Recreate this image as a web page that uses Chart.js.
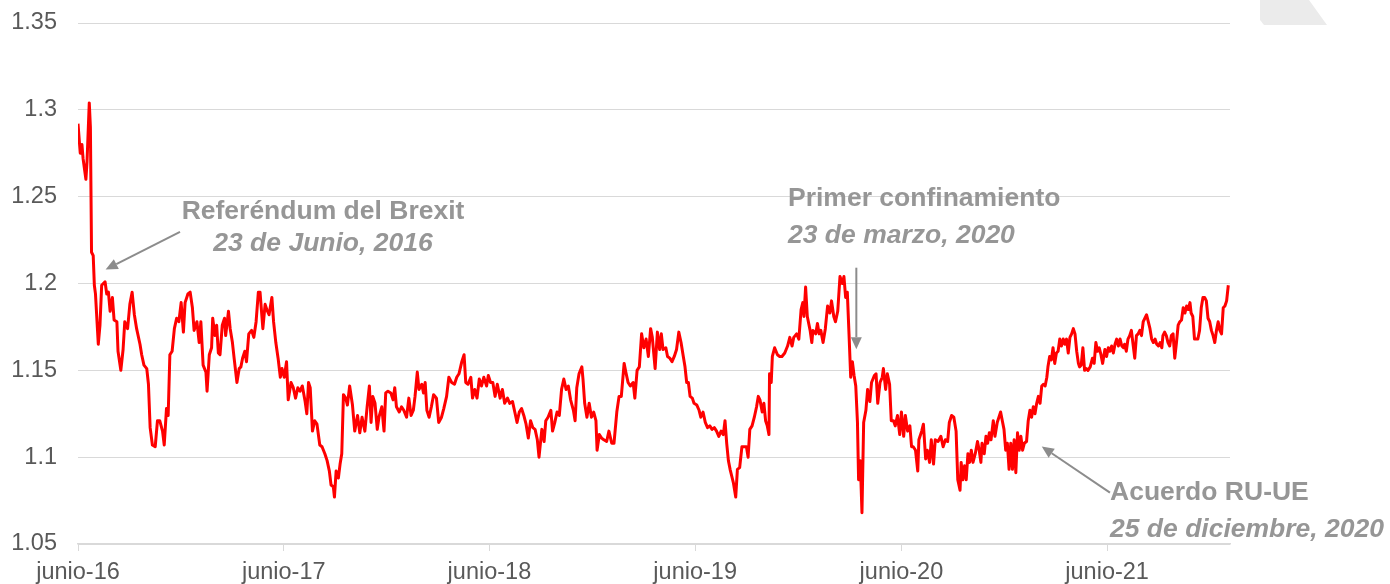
<!DOCTYPE html>
<html>
<head>
<meta charset="utf-8">
<script src="https://cdn.jsdelivr.net/npm/chart.js@4"></script>
<style>
  html, body { margin: 0; padding: 0; background: #fff; }
  #wrap { position: relative; width: 1390px; height: 584px; }
</style>
</head>
<body>
<div id="wrap"><canvas id="myChart"></canvas></div>
<script>
// GBP/EUR, x = days since 1 June 2016
const days = [
  0,4,7,9,14,16,20,22,24,27,29,31,36,39,42,48,51,54,57,61,64,69,71,76,80,83,88,92,96,100,
  104,110,113,117,122,125,128,132,137,141,145,150,153,157,160,163,167,171,175,179,
  183,187,190,195,199,203,206,211,215,218,222,227,229,233,237,239,243,246,249,252,
  256,260,262,267,270,274,277,282,286,289,292,296,299,303,308,312,316,320,323,328,
  332,335,339,344,347,351,355,359,362,366,370,373,378,382,386,390,394,398,403,406,
  409,412,416,420,424,429,433,438,442,446,449,453,455,458,462,465,468,471,475,478,
  482,487,491,496,500,504,
  509,513,517,520,523,527,531,534,539,543,546,550,555,559,562,565,570,574,578,583,
  587,591,595,598,602,605,610,613,616,619,623,627,631,636,640,645,649,654,658,663,
  668,672,676,681,685,688,692,697,700,704,708,712,716,720,725,728,732,736,740,744,
  749,753,757,762,766,771,775,779,783,787,791,795,799,803,807,811,815,818,823,827,
  830,834,839,842,846,850,854,858,862,866,870,874,879,882,885,889,894,896,899,903,
  907,911,915,919,921,925,929,933,938,942,947,951,956,960,964,969,972,976,980,985,
  988,992,996,1000,1004,1008,1012,1016,1019,1024,1028,
  1032,1035,1038,1043,1046,1050,1054,1058,1062,1066,1070,1074,1077,1080,1083,1086,1090,1093,1098,1102,
  1105,1109,1113,1117,1121,1125,1129,1133,1137,1141,1145,1148,1151,1154,1157,1160,1163,1167,1170,1174,
  1178,1182,1186,1189,1192,1196,1200,1204,1207,1210,1214,1217,1220,1223,1226,1227,1230,1232,1236,1241,
  1245,1249,1254,1259,1263,1267,1270,1275,1279,1283,1286,1288,1291,1294,1299,1302,1304,1309,1312,1315,
  1318,1322,1326,1330,1334,1337,1341,1344,1348,1352,1356,1359,1362,1365,1368,1371,1374,1377,1380,1383,
  1385,1388,1391,1394,1398,1401,1405,1408,1413,1416,1419,1423,1427,1429,1433,1436,1440,1443,1447,1450,
  1454,1458,1461,1465,1468,1472,1476,1479,1482,1486,1490,1492,1497,1500,1504,1507,1511,1514,1518,1521,
  1526,1531,1535,1539,1543,
  1546,1550,1554,1558,1561,1565,1567,1570,1573,1576,1579,1582,1585,1588,1592,1596,1599,1602,1604,1608,
  1611,1614,1617,1620,1624,1627,1631,1634,1637,1640,1643,1646,1649,1652,1655,1658,1661,1664,1667,1670,
  1673,1676,1679,1683,1686,1689,1692,1695,1698,1701,1704,1707,1710,1713,1716,1719,1721,1724,1727,1730,
  1733,1736,1739,1742,1745,1748,1751,1754,1757,1760,1763,1766,1769,1772,1775,1777,1780,1783,1786,1789,
  1792,1796,1800,1803,1806,1809,1812,1815,1818,1822,1825,1828,1831,1834,1837,1840,1843,1846,1849,1852,
  1855,1857,1860,1863,1866,1869,1872,1875,1878,1881,1884,1887,1890,1893,1896,1899,1902,1905,1908,1911,
  1914,1917,1920,1923,1925,1928,1931,1934,1937,1940,1943,1946,1949,1952,1955,1958,1961,1964,1967,1970,
  1973,1975,1978,1981,1984,1987,1990,1993,1996,1999,2002,2005,2008,2011,2014,2017,2020,2023,2026,2029,
  2032,2035,2038,2041
];

const rates = [
  1.292,1.275,1.280,1.272,1.260,1.270,1.304,1.290,1.218,1.216,1.199,1.194,1.165,1.176,1.199,1.201,1.194,1.195,1.184,1.192,
  1.179,1.178,1.161,1.150,1.162,1.178,1.174,1.188,1.195,1.182,1.174,1.165,1.159,1.153,1.151,1.142,1.117,1.107,1.106,1.121,
  1.121,1.115,1.107,1.128,1.124,1.159,1.161,1.174,1.180,1.178,1.189,1.172,1.189,1.194,1.195,1.186,1.173,1.178,1.166,1.178,
  1.153,1.149,1.138,1.159,1.163,1.180,1.170,1.176,1.160,1.159,1.176,1.180,1.170,1.184,1.174,1.166,1.157,1.143,1.151,1.152,
  1.157,1.161,1.155,1.171,1.173,1.169,1.178,1.195,1.195,1.174,1.188,1.185,1.182,1.192,1.178,1.166,1.157,1.146,1.151,1.146,
  1.155,1.133,1.143,1.140,1.134,1.140,1.138,1.141,1.132,1.125,1.143,1.140,1.115,1.121,1.119,1.107,1.106,1.102,1.098,1.092,
  1.084,1.083,1.077,1.092,1.088,1.096,1.102,1.136,1.134,1.130,1.141,1.130,1.115,1.124,1.114,1.123,
  1.115,1.129,1.141,1.120,1.135,1.131,1.116,1.123,1.129,1.115,1.137,1.138,1.137,1.133,1.140,1.129,1.126,1.129,1.127,1.123,
  1.134,1.124,1.127,1.135,1.149,1.139,1.142,1.137,1.143,1.127,1.123,1.129,1.136,1.134,1.120,1.123,1.128,1.135,1.146,1.143,
  1.142,1.146,1.148,1.155,1.159,1.143,1.142,1.146,1.134,1.139,1.134,1.145,1.141,1.146,1.141,1.147,1.143,1.143,1.135,1.142,
  1.134,1.139,1.131,1.134,1.131,1.132,1.126,1.120,1.126,1.128,1.124,1.119,1.111,1.121,1.117,1.116,1.110,1.100,1.116,1.109,
  1.121,1.123,1.127,1.115,1.120,1.126,1.124,1.139,1.145,1.139,1.141,1.133,1.127,1.121,1.140,1.148,1.152,1.145,1.131,1.123,
  1.131,1.123,1.126,1.121,1.104,1.113,1.111,1.110,1.109,1.115,1.108,1.108,1.126,1.135,1.135,1.154,1.149,1.143,1.141,1.143,
  1.134,1.150,1.152,1.171,1.163,1.168,1.158,1.174,1.169,1.151,1.172,
  1.162,1.171,1.162,1.163,1.158,1.157,1.155,1.158,1.162,1.172,1.166,1.158,1.152,1.143,1.143,1.135,1.134,1.131,1.130,1.127,
  1.123,1.126,1.120,1.117,1.118,1.116,1.117,1.115,1.112,1.115,1.113,1.121,1.108,1.098,1.093,1.089,1.085,1.077,1.093,1.094,
  1.106,1.106,1.106,1.100,1.116,1.118,1.123,1.129,1.135,1.133,1.126,1.131,1.121,1.118,1.113,1.148,1.143,1.158,1.163,1.159,
  1.158,1.158,1.160,1.164,1.169,1.164,1.169,1.171,1.168,1.185,1.189,1.181,1.198,1.181,1.173,1.166,1.173,1.171,1.177,1.171,
  1.173,1.166,1.174,1.187,1.183,1.190,1.181,1.178,1.184,1.204,1.200,1.204,1.192,1.195,1.171,1.146,1.155,1.147,1.141,1.120,
  1.087,1.098,1.068,1.120,1.127,1.139,1.132,1.143,1.147,1.148,1.131,1.143,1.146,1.151,1.139,1.148,1.142,1.121,1.121,1.118,
  1.124,1.113,1.126,1.112,1.124,1.115,1.118,1.106,1.106,1.104,1.092,1.110,1.115,1.119,1.099,1.104,1.097,1.110,1.096,1.110,
  1.109,1.112,1.106,1.110,1.109,
  1.120,1.124,1.123,1.115,1.087,1.081,1.097,1.087,1.095,1.087,1.102,1.097,1.104,1.097,1.102,1.109,1.104,1.097,1.108,1.102,
  1.112,1.108,1.114,1.110,1.121,1.112,1.120,1.123,1.126,1.121,1.116,1.104,1.108,1.093,1.108,1.093,1.110,1.091,1.114,1.104,
  1.112,1.104,1.108,1.109,1.121,1.127,1.123,1.129,1.125,1.131,1.135,1.131,1.141,1.142,1.141,1.146,1.152,1.158,1.156,1.163,
  1.154,1.160,1.161,1.168,1.164,1.168,1.165,1.168,1.160,1.169,1.171,1.174,1.171,1.161,1.154,1.152,1.153,1.163,1.150,1.151,
  1.150,1.152,1.157,1.154,1.166,1.161,1.163,1.159,1.154,1.162,1.158,1.163,1.161,1.164,1.160,1.165,1.168,1.164,1.168,1.164,
  1.163,1.165,1.161,1.168,1.170,1.173,1.165,1.157,1.170,1.171,1.173,1.170,1.178,1.180,1.182,1.178,1.174,1.168,1.166,1.168,
  1.165,1.164,1.166,1.163,1.170,1.172,1.170,1.166,1.164,1.170,1.171,1.157,1.166,1.176,1.178,1.179,1.186,1.183,1.187,1.185,
  1.189,1.183,1.181,1.168,1.168,1.168,1.173,1.186,1.192,1.192,1.190,1.180,1.178,1.173,1.170,1.166,1.173,1.178,1.173,1.171,
  1.186,1.187,1.190,1.199
];

// x ticks: 1 June of each year
const tickDays = [0, 365, 730, 1095, 1461, 1826];
const tickLabels = ["junio-16", "junio-17", "junio-18", "junio-19", "junio-20", "junio-21"];

// annotation text
const noteTitles = ["Referéndum del Brexit", "Primer confinamiento", "Acuerdo RU-UE"];
const noteDates = ["23 de Junio, 2016", "23 de marzo, 2020", "25 de diciembre, 2020"];

// where each note goes: text anchor in px, arrow tail/tip in data units
const noteLayout = [
  { x: 323, y1: 219, y2: 251, align: "center", from: [181, 1.2297], to: [49, 1.208] },
  { x: 788, y1: 206, y2: 243, align: "left", from: [1381, 1.2091], to: [1381, 1.1622] },
  { x: 1110, y1: 500, y2: 537, align: "left", from: [1831, 1.0796], to: [1710, 1.1061] }
];

const FONT = "'Liberation Sans', Arial, sans-serif";
const NOTE_COLOR = "#969696";
const ARROW_COLOR = "#8c8c8c";

function drawArrow(ctx, x1, y1, x2, y2) {
  const ang = Math.atan2(y2 - y1, x2 - x1);
  const len = 12, half = 5.5;
  const bx = x2 - Math.cos(ang) * len, by = y2 - Math.sin(ang) * len;
  ctx.strokeStyle = ARROW_COLOR;
  ctx.fillStyle = ARROW_COLOR;
  ctx.lineWidth = 2;
  ctx.beginPath();
  ctx.moveTo(x1, y1);
  ctx.lineTo(bx, by);
  ctx.stroke();
  ctx.beginPath();
  ctx.moveTo(x2, y2);
  ctx.lineTo(bx - Math.sin(ang) * half, by + Math.cos(ang) * half);
  ctx.lineTo(bx + Math.sin(ang) * half, by - Math.cos(ang) * half);
  ctx.closePath();
  ctx.fill();
}

const notesPlugin = {
  id: "notes",
  beforeDraw(chart) {
    // grey corner mark, top right
    const ctx = chart.ctx;
    ctx.save();
    ctx.fillStyle = "#ebebeb";
    ctx.beginPath();
    ctx.moveTo(1260, 0);
    ctx.lineTo(1309, 0);
    ctx.lineTo(1327, 25);
    ctx.lineTo(1264, 25);
    ctx.lineTo(1260, 20);
    ctx.closePath();
    ctx.fill();
    ctx.restore();
  },
  afterDatasetsDraw(chart) {
    const ctx = chart.ctx;
    const xs = chart.scales.x, ys = chart.scales.y;
    ctx.save();
    noteLayout.forEach((n, i) => {
      drawArrow(ctx,
        xs.getPixelForValue(n.from[0]), ys.getPixelForValue(n.from[1]),
        xs.getPixelForValue(n.to[0]), ys.getPixelForValue(n.to[1]));
      ctx.fillStyle = NOTE_COLOR;
      ctx.textAlign = n.align;
      ctx.textBaseline = "alphabetic";
      ctx.font = "bold 26.5px " + FONT;
      ctx.fillText(noteTitles[i], n.x, n.y1);
      ctx.font = "italic bold 26.5px " + FONT;
      ctx.fillText(noteDates[i], n.x, n.y2);
    });
    ctx.restore();
  }
};

const ctx = document.getElementById("myChart");

const chart = new Chart(ctx, {
  type: "line",
  data: {
    datasets: [
      {
        data: days.map((d, i) => ({ x: d, y: rates[i] })),
        borderColor: "#ff0000",
        borderWidth: 3,
        pointRadius: 0,
        tension: 0,
        borderJoinStyle: "round",
      },
    ],
  },
  options: {
    responsive: true,
    maintainAspectRatio: false,
    animation: false,
    devicePixelRatio: 1,
    layout: { padding: { top: 23, right: 160, left: 0, bottom: 0 } },
    plugins: { legend: { display: false }, tooltip: { enabled: false } },
    scales: {
      x: {
        type: "linear",
        min: 0,
        max: 2044,
        afterBuildTicks: (scale) => {
          scale.ticks = tickDays.map((v) => ({ value: v }));
        },
        afterFit: (scale) => { scale.height = 40; },
        ticks: {
          autoSkip: false,
          maxRotation: 0,
          padding: 7,
          color: "#595959",
          font: { family: FONT, size: 23.5 },
          callback: (v) => tickLabels[tickDays.indexOf(v)],
        },
        grid: { drawOnChartArea: false, drawTicks: true, tickLength: 7, color: "#d9d9d9" },
        border: { color: "#d9d9d9", width: 1.5 },
      },
      y: {
        min: 1.05,
        max: 1.35,
        afterFit: (scale) => {
          scale.width = 78;
          // tick padding would otherwise push the plot top down
          scale.paddingTop = 0;
          scale.paddingBottom = 0;
        },
        ticks: {
          stepSize: 0.05,
          padding: 21,
          color: "#595959",
          font: { family: FONT, size: 23.5 },
          callback: (v) => String(parseFloat(v.toFixed(2))),
        },
        grid: { color: "#d9d9d9", drawTicks: false },
        border: { display: false },
      },
    },
  },
  plugins: [notesPlugin],
});
</script>
</body>
</html>
